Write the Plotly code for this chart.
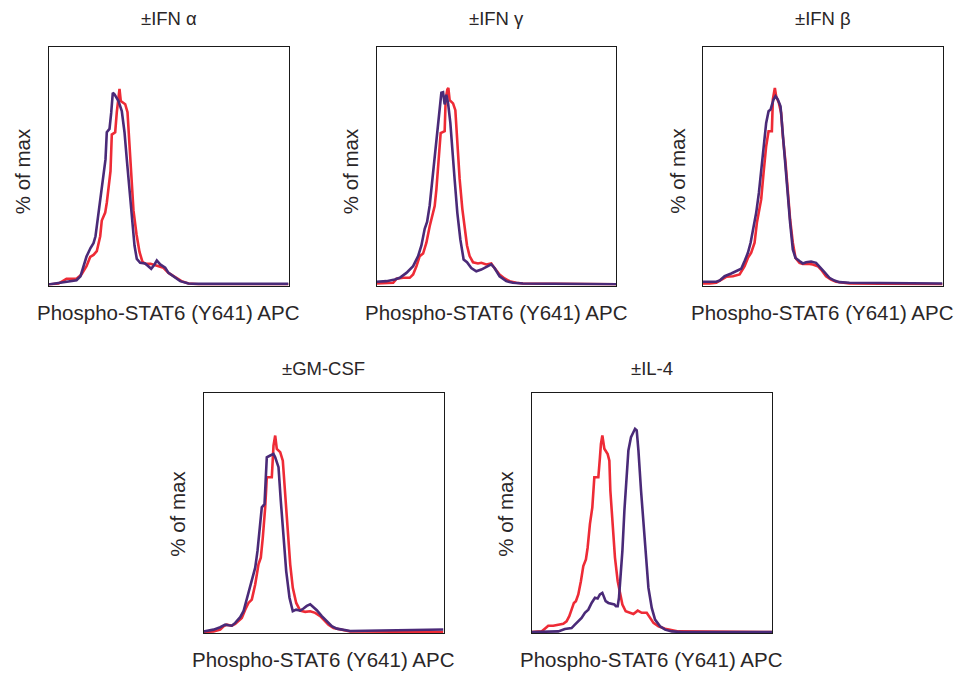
import plotly.graph_objects as go

# ---------------- data (x: relative fluorescence 0-240, y: % of max) ----------------
titles = ["±IFN α", "±IFN γ", "±IFN β", "±GM-CSF", "±IL-4"]
x_label = "Phospho-STAT6 (Y641) APC"
y_label = "% of max"

# Panel 1: IFN alpha
ifna_unstim_x = [0, 10, 18, 28, 33, 38, 41.7, 45, 48.3, 51.7, 53.3, 56.7, 58.3, 60, 62, 63.3, 66.7, 68.3, 70, 71, 72.3, 76.7, 79, 80.7, 82.7, 85, 88, 91, 94, 97, 102, 108, 115, 120, 127, 133, 140, 150, 240]
ifna_unstim_y = [0.5, 1.0, 3.4, 3.4, 5.6, 9.8, 14.5, 15.5, 17.4, 25, 33, 37, 42, 50, 58, 76.6, 77.8, 88, 97.8, 99.8, 93.6, 92, 88, 74, 54, 38, 26, 17, 12, 11, 11, 10, 9, 6.4, 3.9, 2.2, 1.0, 0.6, 0.6]
ifna_stim_x = [0, 10, 20, 28, 32, 35, 38, 42, 45, 47, 50, 53, 57, 58.3, 61, 62.7, 64.3, 66, 70, 73.3, 76, 78.3, 80.7, 83.3, 86, 88.3, 91.7, 96.7, 100, 102.7, 106, 108.3, 111.7, 116.7, 120, 125, 131.7, 140, 150, 240]
ifna_stim_y = [0.5, 1.4, 2.2, 2.7, 4.7, 9.8, 14.7, 19.0, 21.5, 25, 36.9, 50.4, 64, 77.8, 79.5, 87.6, 97.8, 97, 93.6, 88.5, 77.8, 64, 49, 33.8, 20.3, 13.5, 11.5, 11.2, 9.8, 8.5, 10.7, 12.7, 10.7, 9.0, 6.4, 4.4, 2.2, 1.0, 0.8, 0.8]

# Panel 2: IFN gamma
ifng_unstim_x = [0, 16.7, 20, 26.7, 33.3, 36.7, 40, 43.3, 46.7, 50, 53.3, 56.7, 58.3, 60, 61.7, 63.3, 64.3, 68.3, 69.3, 71, 72, 73.3, 76.7, 79, 80.7, 83.3, 86, 88.3, 90.7, 93.3, 96.7, 101.7, 105, 110, 115, 118.3, 123.3, 128.3, 133.3, 140, 146.7, 240]
ifng_unstim_y = [1.0, 1.4, 3.4, 3.9, 3.9, 5.6, 9.8, 14.9, 16.2, 21.7, 30.1, 36.9, 40.3, 48.7, 60.6, 70.7, 77.4, 78.3, 94.4, 99.5, 100.3, 94.1, 92.4, 89, 74.6, 54.1, 38.9, 28.8, 20.3, 14.9, 11.8, 11.2, 11.5, 10.7, 11.2, 8.8, 5.6, 3.6, 2.2, 1.4, 1.0, 0.6]
ifng_stim_x = [0, 10, 18.3, 23.3, 30, 36.7, 41.7, 45, 48.3, 50.7, 53.3, 56, 58.3, 61, 63.3, 65, 66.7, 68.3, 70, 71.7, 74, 76, 78.3, 81, 84, 87.3, 90.7, 95, 100, 105, 110, 115, 118.3, 123.3, 130, 136.7, 146.7, 240]
ifng_stim_y = [1.9, 2.2, 3.0, 3.9, 6.4, 9.8, 14.9, 20.3, 28.8, 32.3, 40.6, 54.1, 65.9, 79.2, 87.6, 97.8, 98.1, 91.9, 96.8, 92.6, 82.5, 67.3, 53.8, 36.9, 23.4, 13.2, 11.8, 8.9, 7.2, 8.1, 9.5, 10.7, 8.9, 4.7, 2.2, 1.4, 1.0, 0.6]

# Panel 3: IFN beta
ifnb_unstim_x = [0, 6.7, 13.3, 18.3, 23.3, 30, 36.7, 41.7, 45, 48.3, 51.7, 54, 56, 58.3, 60.7, 63.3, 65.7, 69, 70, 72, 73.3, 76, 78.3, 80, 82.7, 85, 87.3, 90, 92.7, 96.7, 100, 105, 110, 115, 118.3, 123.3, 128.3, 133.3, 140, 146.7, 240]
ifnb_unstim_y = [1.0, 1.0, 1.4, 3.0, 4.4, 4.7, 5.6, 9.8, 14.0, 16.6, 21.7, 31.8, 36.9, 43.7, 57.2, 70.7, 78.3, 78.3, 94.4, 100.3, 96.1, 92.7, 87.6, 75.8, 62.3, 47.0, 33.5, 21.7, 14.0, 11.5, 11.0, 11.0, 10.7, 9.8, 8.1, 4.7, 3.0, 1.9, 1.4, 1.0, 0.6]
ifnb_stim_x = [0, 13.3, 16.7, 21.7, 28.3, 33.3, 38.3, 41.7, 45, 47.7, 50, 53.3, 56, 58.3, 61, 63.3, 65.7, 67.7, 68.7, 70.7, 72.7, 75, 77.7, 80, 82.7, 85, 87.3, 90, 92.7, 96.7, 100, 103.3, 108.3, 113.3, 118.3, 121.7, 126.7, 131.7, 136.7, 146.7, 240]
ifnb_stim_y = [1.9, 1.9, 2.5, 4.7, 6.1, 7.3, 8.5, 12.4, 16.6, 21.7, 28.4, 36.9, 47.0, 58.2, 72.4, 82.5, 88.5, 89.3, 91.0, 94.4, 96.1, 94.4, 91.0, 75.8, 60.6, 45.3, 31.8, 18.3, 14.0, 12.4, 11.2, 11.8, 12.2, 11.5, 9.0, 6.8, 3.9, 2.5, 1.7, 1.4, 1.0]

# Panel 4: GM-CSF
gmcsf_unstim_x = [0, 10, 16.7, 20, 23.3, 28.3, 31.7, 35, 38.3, 41.7, 45, 48.3, 51.7, 55, 57.3, 59.3, 61.7, 63.3, 68.3, 70, 71.7, 73.3, 76.7, 79.3, 81.3, 84, 86.7, 89.3, 92.7, 96.7, 101.7, 106.7, 111.7, 116.7, 120, 125, 130, 136.7, 146.7, 240]
gmcsf_unstim_y = [0.5, 0.8, 1.7, 3.4, 4.2, 3.7, 4.6, 5.9, 7.6, 11.8, 15.2, 16.9, 24.5, 34.7, 38.1, 48.2, 63.5, 78.7, 78.7, 94.7, 99.8, 93.1, 91.4, 87.1, 71.9, 51.6, 34.7, 22.8, 15.2, 11.3, 10.7, 11.0, 10.2, 8.5, 6.8, 4.2, 2.5, 1.7, 0.8, 0.5]
gmcsf_stim_x = [0, 10, 16.7, 21.7, 25, 28.3, 31.7, 36.7, 40, 42.7, 45, 48.3, 51.7, 54, 56.7, 58.3, 61, 63.3, 66.7, 70, 71.7, 75, 77.3, 80, 82.7, 86, 89.3, 92.7, 96.7, 100, 103.3, 106.7, 110, 113.3, 118.3, 123.3, 128.3, 133.3, 146.7, 240]
gmcsf_stim_y = [0.8, 1.7, 2.9, 4.2, 3.9, 3.7, 5.1, 8.0, 11.0, 16.1, 21.2, 26.2, 33.0, 41.5, 56.7, 63.5, 65.1, 88.8, 89.7, 90.5, 88.8, 83.8, 66.8, 48.2, 31.3, 17.8, 11.0, 11.8, 11.3, 12.4, 13.7, 14.5, 13.2, 11.5, 8.5, 5.9, 3.4, 2.2, 1.0, 1.8]

# Panel 5: IL-4
il4_unstim_x = [0, 10, 13.3, 16.7, 21.7, 26.7, 31.7, 35, 37.7, 40, 42.3, 44.3, 46.7, 49.3, 51.7, 54.3, 56, 58.3, 60.7, 62.7, 66.7, 68.3, 69.3, 70.7, 71.7, 72.7, 76, 77.7, 78.7, 80.7, 83.3, 86, 88.3, 90.7, 94, 98.3, 101.7, 106, 110, 115, 118.3, 121.7, 126.7, 133.3, 146.7, 240]
il4_unstim_y = [0.5, 0.8, 2.2, 3.7, 3.7, 4.2, 4.7, 5.9, 8.5, 11.8, 15.2, 16.1, 19.5, 26.2, 33.8, 37.2, 43.1, 55.0, 63.5, 78.7, 78.7, 88.8, 95.6, 99.8, 96.4, 93.1, 90.4, 87.1, 71.9, 55.0, 38.1, 26.2, 19.5, 14.4, 11.0, 10.2, 9.6, 11.3, 10.2, 10.2, 7.6, 5.1, 3.4, 2.2, 0.8, 0.5]
il4_stim_x = [0, 20, 26.7, 33.3, 40, 43.3, 46.7, 50, 53.3, 56.7, 60, 63.3, 66, 68.3, 70.7, 72.3, 74, 76.7, 80, 82.7, 84.3, 86, 87.3, 88.7, 90.7, 92.7, 94.7, 96.7, 99.3, 101.7, 103.3, 105, 106.7, 109.3, 111.7, 114, 116.7, 120, 123.3, 128.3, 133.3, 140, 150, 240]
il4_stim_y = [0.5, 0.5, 0.8, 2.0, 2.5, 4.2, 5.9, 7.6, 10.2, 11.8, 15.2, 17.8, 17.4, 19.5, 20.3, 18.6, 16.1, 15.2, 14.7, 14.4, 13.5, 13.5, 17.8, 27.9, 41.5, 61.8, 80.5, 92.3, 99.0, 101.5, 103.2, 102.4, 92.3, 72.0, 55.0, 38.1, 22.8, 12.7, 6.8, 3.4, 1.7, 0.8, 0.5, 0.5]

panels = [
    (ifna_unstim_x, ifna_unstim_y, ifna_stim_x, ifna_stim_y),
    (ifng_unstim_x, ifng_unstim_y, ifng_stim_x, ifng_stim_y),
    (ifnb_unstim_x, ifnb_unstim_y, ifnb_stim_x, ifnb_stim_y),
    (gmcsf_unstim_x, gmcsf_unstim_y, gmcsf_stim_x, gmcsf_stim_y),
    (il4_unstim_x, il4_unstim_y, il4_stim_x, il4_stim_y),
]

# ---------------- layout ----------------
W, H = 969, 673
RED = "#EE2B36"
PURPLE = "#4A2A78"
FONT = "Liberation Sans, Arial, Helvetica, sans-serif"
TXT = "#2a2627"

# panel boxes in page pixels: (left, top, right, bottom)
boxes = [
    (48.5, 46.5, 288.5, 285.5),
    (376.5, 46.5, 616.0, 285.5),
    (703.0, 46.5, 942.5, 285.5),
    (203.5, 393.0, 443.5, 633.0),
    (531.5, 393.0, 772.0, 633.0),
]
title_dy = [27.8, 27.8, 27.8, 24.2, 24.2]
xlab_dy = [27.2, 27.2, 27.2, 26.0, 26.0]
ylab_dx = [26.3, 26.3, 26.3, 26.8, 26.8]
ylab_cy = [5.0, 5.0, 5.0, 1.0, 1.0]


def px(x):
    return x / W


def py(y):
    return 1 - y / H


fig = go.Figure()
annotations = []
for i, ((ux, uy, sx, sy), (l, t, r, b)) in enumerate(zip(panels, boxes)):
    n = "" if i == 0 else str(i + 1)
    fig.add_trace(go.Scatter(x=ux, y=uy, mode="lines", line=dict(color=RED, width=2.6),
                             xaxis="x" + n, yaxis="y" + n, showlegend=False, hoverinfo="skip"))
    fig.add_trace(go.Scatter(x=sx, y=sy, mode="lines", line=dict(color=PURPLE, width=2.6),
                             xaxis="x" + n, yaxis="y" + n, showlegend=False, hoverinfo="skip"))
    ax = dict(domain=[px(l), px(r)], range=[0, 240], showline=True, mirror=True,
              linecolor="#1a1a1a", linewidth=1.2, showgrid=False, zeroline=False,
              showticklabels=False, ticks="", fixedrange=True)
    ay = dict(domain=[py(b), py(t)], range=[0, 121.3], showline=True, mirror=True,
              linecolor="#1a1a1a", linewidth=1.2, showgrid=False, zeroline=False,
              showticklabels=False, ticks="", fixedrange=True)
    if i > 0:
        ax["anchor"] = "y" + n
        ay["anchor"] = "x" + n
    fig.update_layout(**{"xaxis" + n: ax, "yaxis" + n: ay})

    cx = (l + r) / 2
    annotations.append(dict(text=titles[i], x=px(cx), y=py(t - title_dy[i]), xref="paper", yref="paper",
                            showarrow=False, xanchor="center", yanchor="middle",
                            font=dict(family=FONT, size=18.5, color=TXT)))
    annotations.append(dict(text=x_label, x=px(cx), y=py(b + xlab_dy[i]), xref="paper", yref="paper",
                            showarrow=False, xanchor="center", yanchor="middle",
                            font=dict(family=FONT, size=20.5, color=TXT)))
    annotations.append(dict(text=y_label, x=px(l - ylab_dx[i]), y=py((t + b) / 2 + ylab_cy[i]),
                            xref="paper", yref="paper", showarrow=False, xanchor="center",
                            yanchor="middle", textangle=-90,
                            font=dict(family=FONT, size=20.5, color=TXT)))

fig.update_layout(width=W, height=H, margin=dict(l=0, r=0, t=0, b=0),
                  paper_bgcolor="white", plot_bgcolor="white", annotations=annotations,
                  showlegend=False)

# remove the browser's default page margin so the figure fills the window exactly
fig.write_html("out.html", config={"displayModeBar": False},
               post_script="document.body.style.margin='0';document.body.style.overflow='hidden';")
